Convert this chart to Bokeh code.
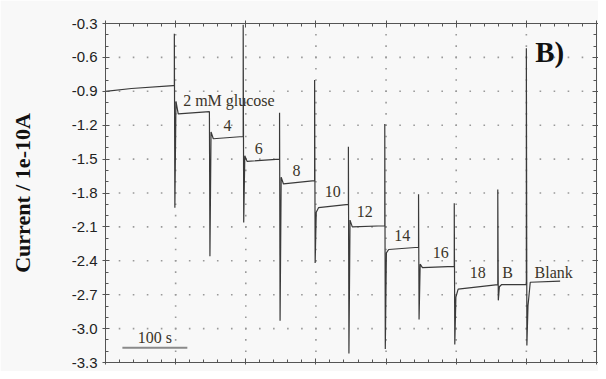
import numpy as np
from bokeh.plotting import figure
from bokeh.models import FixedTicker, LinearAxis, Range1d, CustomJSTickFormatter
from bokeh.core.properties import value
from bokeh.embed import file_html
from bokeh.resources import INLINE

# ---------------- data ----------------
# time in seconds (scale bar = 100 s), current in units of 1e-10 A
x_major = [0, 108, 216, 324, 432, 540, 648, 756]
y_major = [-3.3, -3.0, -2.7, -2.4, -2.1, -1.8, -1.5, -1.2, -0.9, -0.6, -0.3]
y_labels = ["-3.3", "-3.0", "-2.7", "-2.4", "-2.1", "-1.8", "-1.5", "-1.2", "-0.9", "-0.6", "-0.3"]

base_t = [0, 40, 104]
base_y = [-0.90, -0.875, -0.85]

step_t = [106, 160, 212, 268, 322, 374, 430, 482, 537, 604, 648]
spike_hi = [-0.39, -1.08, -0.31, -1.09, -0.80, -1.39, -1.19, -1.81, -1.89, -1.77, -0.52]
spike_lo = [-1.93, -2.36, -2.06, -2.93, -2.42, -3.22, -3.18, -2.92, -3.14, -2.75, -3.15]
settle = [-0.99, -1.26, -1.47, -1.66, -1.97, -2.04, -2.33, -2.43, -2.72, -2.63, -2.80]
level_start = [-1.10, -1.32, -1.52, -1.72, -1.93, -2.10, -2.30, -2.46, -2.65, -2.61, -2.59]
level_end = [-1.08, -1.30, -1.50, -1.69, -1.90, -2.09, -2.28, -2.45, -2.61, -2.61, -2.58]
trace_end_t = 700

labels = ["2 mM glucose", "4", "6", "8", "10", "12", "14", "16", "18", "B", "Blank"]
label_t = [190, 188, 236, 294, 350, 399, 457, 516, 573, 619, 690]
label_y = [-0.98, -1.20, -1.41, -1.60, -1.79, -1.96, -2.18, -2.33, -2.50, -2.50, -2.50]

scale_t = [26, 126]       # 100 s scale bar
scale_y = -3.17

# ---------------- build trace ----------------
tx = list(base_t)
ty = list(base_y)
for i, t in enumerate(step_t):
    nxt = step_t[i + 1] if i + 1 < len(step_t) else trace_end_t
    tx += [t, t, t + 0.8, t + 2.5, t + 6, nxt]
    ty += [ty[-1], spike_hi[i], spike_lo[i], settle[i], level_start[i], level_end[i]]

# ---------------- figure ----------------
p = figure(width=598, height=371, output_backend="svg", toolbar_location=None,
           x_range=Range1d(x_major[0], x_major[-1]), y_range=Range1d(y_major[0], y_major[-1]),
           min_border_left=105, min_border_right=2, min_border_top=23, min_border_bottom=9,
           background_fill_color="#f8f8f8", border_fill_color="#f8f8f8")
p.outline_line_color = None
p.grid.visible = False

x_minor = list(np.arange(x_major[0], x_major[-1] + 0.01, (x_major[1] - x_major[0]) / 5))
y_minor = list(np.round(np.arange(y_major[0], y_major[-1] + 0.001, 0.1), 2))
xt = FixedTicker(ticks=x_major, minor_ticks=x_minor)
yt = FixedTicker(ticks=y_major, minor_ticks=y_minor)

# dotted grid
gx, gy = [], []
for yv in y_major[1:-1]:
    for xv in x_minor[1:-1]:
        gx.append(xv); gy.append(yv)
for xv in x_major[1:-1]:
    for yv in y_minor[1:-1]:
        gx.append(xv); gy.append(yv)
p.scatter(gx, gy, marker="square", size=1.6, color="#9a9a9a", line_color=None)

p.line(tx, ty, line_color="#3a3a3a", line_width=1.2)

# scale bar
p.line(scale_t, [scale_y, scale_y], line_color="#8a8a8a", line_width=2)
p.text([sum(scale_t) / 2], [scale_y + 0.09], text=["100 s"], text_align="center",
       text_baseline="middle", text_font=value("Liberation Serif"), text_font_size="16px",
       text_color="#3a3428")

p.text(label_t, label_y, text=labels, text_align="center", text_baseline="middle",
       text_font=value("Liberation Serif"), text_font_size="16px", text_color="#3a3428")

p.text([684], [-0.55], text=["B)"], text_align="center", text_baseline="middle",
       text_font=value("Liberation Serif"), text_font_size="29px", text_font_style="bold",
       text_color="#111111")

empty = CustomJSTickFormatter(code="return ''")

def style(ax, labels_on, tick_out=3):
    ax.axis_line_color = "#555555"
    ax.major_tick_line_color = "#555555"
    ax.minor_tick_line_color = "#555555"
    ax.major_tick_in = 4
    ax.major_tick_out = tick_out
    ax.minor_tick_in = 3
    ax.minor_tick_out = 0
    if not labels_on:
        ax.formatter = empty
        ax.major_label_standoff = 0
        ax.major_label_text_font_size = "0px"

# left axis
yax = p.yaxis[0]
yax.ticker = yt
style(yax, True)
yax.major_label_overrides = {v: s for v, s in zip(y_major, y_labels)}
yax.major_label_text_font = "Liberation Sans"
yax.major_label_text_font_size = "15px"
yax.major_label_text_color = "#222222"
yax.major_label_standoff = 5
yax.axis_label = "Current / 1e-10A"
yax.axis_label_text_font = "Liberation Serif"
yax.axis_label_text_font_style = "bold"
yax.axis_label_text_font_size = "22px"
yax.axis_label_text_color = "#111111"
yax.axis_label_standoff = 34

# bottom axis
xax = p.xaxis[0]
xax.ticker = xt
style(xax, False, tick_out=2)

top = LinearAxis(ticker=xt)
style(top, False)
p.add_layout(top, "above")

right = LinearAxis(ticker=yt)
style(right, False, tick_out=2)
p.add_layout(right, "right")

open("out.html", "w").write(file_html(p, INLINE))
